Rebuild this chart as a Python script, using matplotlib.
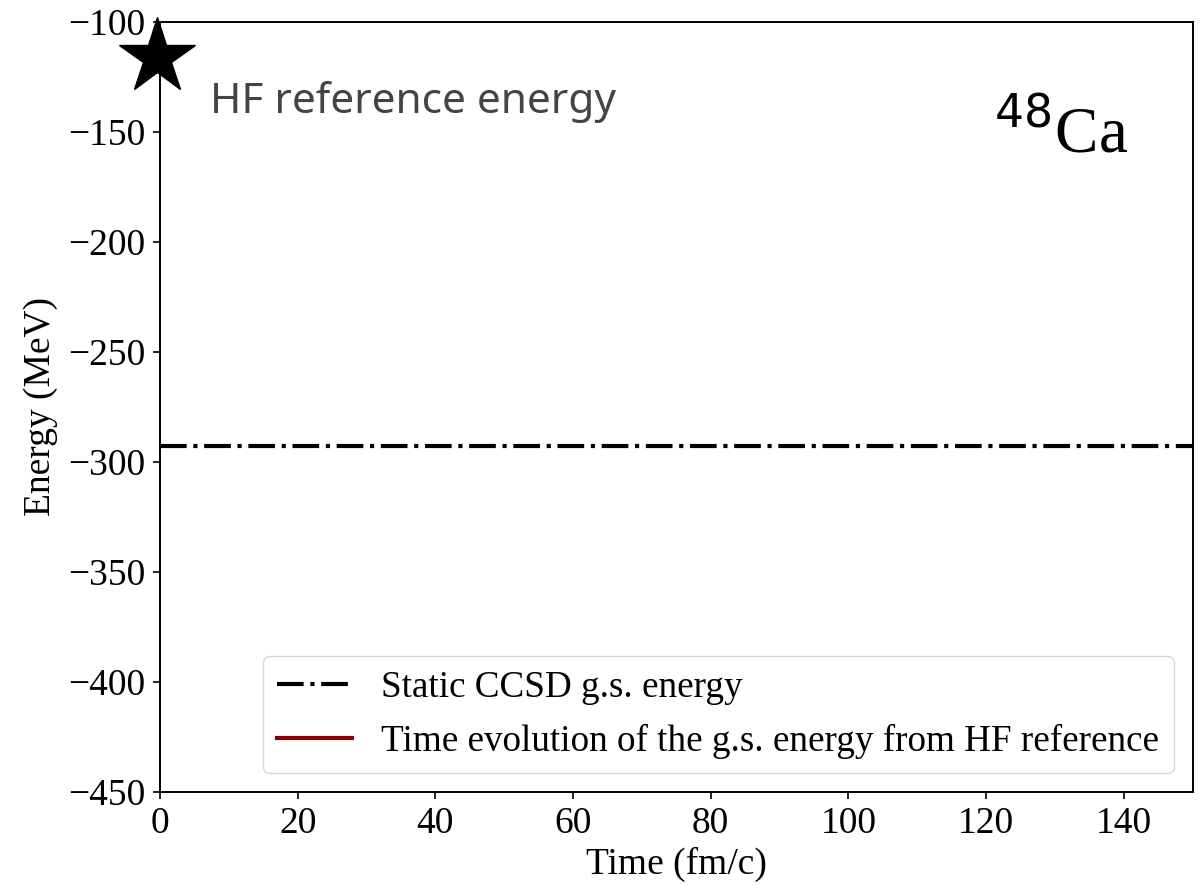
import matplotlib
matplotlib.use("Agg")
import matplotlib.pyplot as plt

# Data
hf_time = [-0.5]
hf_energy = [-116.0]
ccsd_energy = -292.7
evo_time = []
evo_energy = []
x_limits = (0, 150)
y_limits = (-450, -100)
x_ticks = [0, 20, 40, 60, 80, 100, 120, 140]
y_ticks = [-450, -400, -350, -300, -250, -200, -150, -100]

plt.rcParams['font.family'] = ['Liberation Serif']
plt.rcParams['mathtext.fontset'] = 'dejavusans'

fig = plt.figure(figsize=(12.03, 8.86), dpi=100)
ax = fig.add_axes([0.133, 0.1061, 0.8584, 0.8691])

ax.axhline(ccsd_energy, color='black', linestyle='-.', linewidth=3.0,
           label='Static CCSD g.s. energy')
ax.plot(evo_time, evo_energy, color='#8B0000', linewidth=3.0,
        label='Time evolution of the g.s. energy from HF reference')
ax.plot(hf_time, hf_energy, marker='*', markersize=57, color='black',
        linestyle='none', clip_on=False, zorder=5)

ax.text(0.048, 0.896, 'HF reference energy', transform=ax.transAxes,
        fontsize=30.5, color='#444444', family='Noto Sans', va='center', ha='left')
ax.text(0.937, 0.831, r'$^{48}$Ca', transform=ax.transAxes,
        fontsize=47, color='black', va='baseline', ha='right')

ax.set_xlim(*x_limits)
ax.set_ylim(*y_limits)
ax.set_xticks(x_ticks)
ax.set_yticks(y_ticks)
ax.tick_params(labelsize=27, length=5.2, width=1.2, pad=5.5)
for s in ax.spines.values():
    s.set_linewidth(1.4)

ax.set_xlabel('Time (fm/c)', fontsize=27, labelpad=4)
ax.set_ylabel('Energy (MeV)', fontsize=27, labelpad=7)

ax.legend(loc='lower right', fontsize=26.7, handlelength=2.0)

fig.savefig('out.png', dpi=100)
